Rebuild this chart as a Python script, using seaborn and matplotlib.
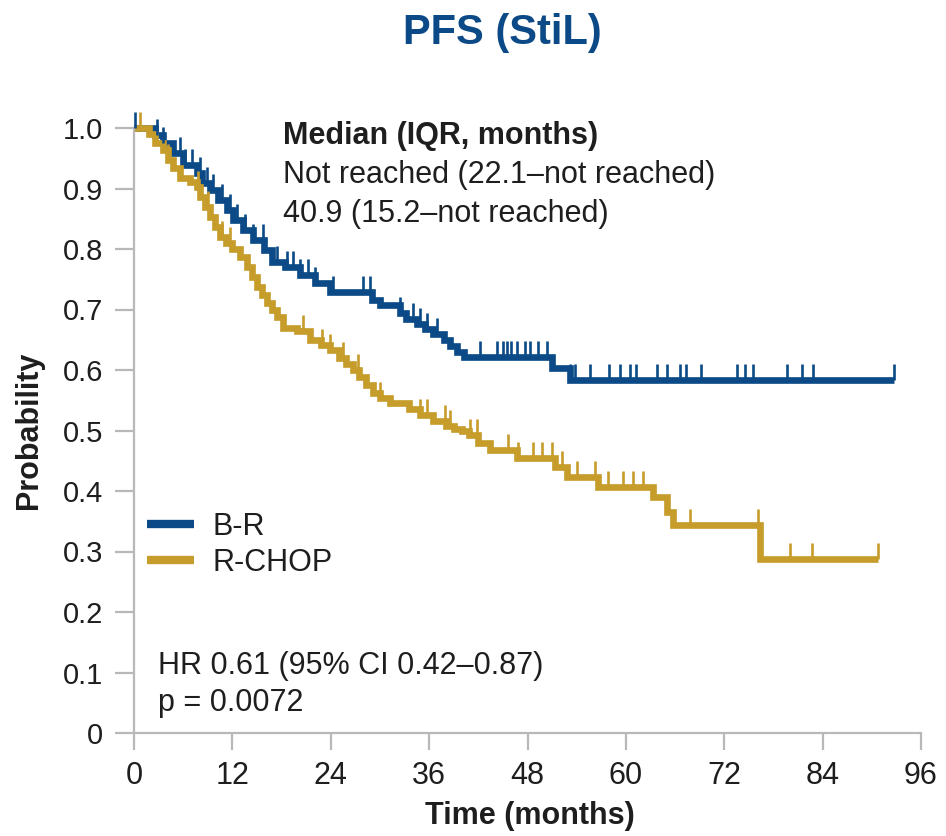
import warnings
warnings.filterwarnings("ignore")
import numpy as np
import pandas as pd
import matplotlib
matplotlib.use("Agg")
import matplotlib.pyplot as plt
import seaborn as sns

# ---------------- data ----------------
arms = ["B-R", "R-CHOP"]

br_time = [0, 2.6, 3.5, 4.8, 6.0, 7.7, 8.3, 9.3, 10.3, 11.3, 12.1, 13.3, 14.5, 15.8,
           16.8, 18.4, 20.2, 22.1, 23.9, 29.0, 30.0, 32.4, 33.2, 34.5, 35.5, 36.5,
           37.8, 38.6, 39.4, 40.3, 51.0, 53.2, 92.7]
br_surv = [1.0, 0.988, 0.975, 0.959, 0.939, 0.926, 0.909, 0.897, 0.881, 0.864, 0.848,
           0.831, 0.815, 0.798, 0.779, 0.770, 0.757, 0.744, 0.729, 0.716, 0.707, 0.694,
           0.684, 0.676, 0.668, 0.660, 0.650, 0.640, 0.630, 0.622, 0.603, 0.583, 0.583]
br_censor = [0.1, 2.8, 3.5, 5.6, 6.2, 7.1, 8.0, 8.9, 9.6, 10.7, 11.7, 12.6, 13.5, 14.5,
             15.7, 17.4, 18.7, 19.4, 20.2, 21.2, 22.1, 24.3, 27.9, 28.8, 32.4, 34.0,
             34.9, 35.7, 37.0, 42.2, 44.3, 45.0, 45.5, 46.0, 46.7, 47.7, 48.3, 49.3,
             50.4, 53.2, 53.8, 55.6, 58.0, 59.3, 60.5, 61.2, 63.8, 65.0, 66.6, 67.3,
             69.2, 73.5, 74.5, 75.5, 79.6, 81.5, 82.8, 92.7]

rc_time = [0, 1.8, 2.6, 3.5, 4.1, 4.8, 5.6, 6.8, 7.7, 8.0, 8.7, 9.3, 9.9, 10.5, 11.2,
           12.0, 12.9, 13.8, 14.4, 15.0, 15.6, 16.2, 16.8, 17.4, 18.2, 19.9, 21.5,
           22.8, 23.9, 25.0, 25.8, 26.7, 27.5, 28.3, 29.2, 30.0, 31.2, 33.5, 34.9,
           36.5, 38.0, 39.0, 40.0, 40.9, 42.0, 43.4, 46.7, 51.3, 52.8, 56.6, 63.3,
           65.0, 65.8, 76.3, 90.7]
rc_surv = [1.0, 0.99, 0.975, 0.964, 0.947, 0.934, 0.917, 0.911, 0.902, 0.886, 0.869,
           0.853, 0.836, 0.820, 0.810, 0.800, 0.787, 0.770, 0.754, 0.737, 0.724, 0.711,
           0.700, 0.688, 0.669, 0.665, 0.650, 0.642, 0.633, 0.620, 0.610, 0.600, 0.588,
           0.575, 0.562, 0.553, 0.545, 0.535, 0.525, 0.515, 0.508, 0.503, 0.500, 0.492,
           0.480, 0.468, 0.455, 0.440, 0.423, 0.407, 0.390, 0.366, 0.343, 0.287, 0.287]
rc_censor = [0.7, 4.1, 7.8, 9.0, 10.7, 11.7, 20.6, 22.9, 23.9, 25.5, 27.3, 30.0, 34.9,
             35.7, 37.9, 38.5, 41.0, 41.8, 45.6, 46.8, 48.7, 49.8, 51.0, 52.2, 54.0,
             56.2, 57.8, 59.6, 60.9, 62.1, 67.8, 76.1, 80.0, 82.7, 90.7]

x_ticks = [0, 12, 24, 36, 48, 60, 72, 84, 96]
y_ticks = [0, 0.1, 0.2, 0.3, 0.4, 0.5, 0.6, 0.7, 0.8, 0.9, 1.0]
y_ticklabels = ["0", "0.1", "0.2", "0.3", "0.4", "0.5", "0.6", "0.7", "0.8", "0.9", "1.0"]

title = "PFS (StiL)"
median_lines = ["Median (IQR, months)", "Not reached (22.1\u2013not reached)",
                "40.9 (15.2\u2013not reached)"]
stat_lines = ["HR 0.61 (95% CI 0.42\u20130.87)", "p = 0.0072"]

# ---------------- style ----------------
BLUE = "#0B4A86"
GOLD = "#C69C2B"
AXCOL = "#b8b8b8"
TXT = "#1e1e1e"

sns.set_style("white")
plt.rcParams["font.family"] = ["Liberation Sans", "DejaVu Sans"]

fig = plt.figure(figsize=(9.46, 8.36), dpi=100)
ax = fig.add_axes([134 / 946, 1 - 733 / 836, 787 / 946, 605 / 836])

curves = pd.concat([
    pd.DataFrame({"time": br_time, "surv": br_surv, "arm": arms[0]}),
    pd.DataFrame({"time": rc_time, "surv": rc_surv, "arm": arms[1]}),
], ignore_index=True)

sns.lineplot(data=curves, x="time", y="surv", hue="arm", hue_order=arms,
             palette=[BLUE, GOLD], drawstyle="steps-post", estimator=None,
             errorbar=None, linewidth=4.8, ax=ax, legend=True,
             solid_joinstyle="miter", solid_capstyle="butt", clip_on=False)


def step_lookup(t_arr, s_arr, q):
    t_arr = np.asarray(t_arr)
    s_arr = np.asarray(s_arr)
    idx = np.searchsorted(t_arr, np.asarray(q), side="right") - 1
    return s_arr[np.clip(idx, 0, len(s_arr) - 1)]


for tt, ss, cens, col in [(br_time, br_surv, br_censor, BLUE),
                          (rc_time, rc_surv, rc_censor, GOLD)]:
    cdf = pd.DataFrame({"time": cens, "surv": step_lookup(tt, ss, cens)})
    sns.scatterplot(data=cdf, x="time", y="surv", marker=2, s=125, color=col,
                    linewidth=1.9, ax=ax, clip_on=False, legend=False, zorder=3)

ax.set_xlim(0, 96)
ax.set_ylim(0, 1.0)
ax.set_xticks(x_ticks)
ax.set_xticklabels([str(v) for v in x_ticks])
ax.set_yticks(y_ticks)
ax.set_yticklabels(y_ticklabels)

for side in ["top", "right"]:
    ax.spines[side].set_visible(False)
for side in ["left", "bottom"]:
    ax.spines[side].set_color(AXCOL)
    ax.spines[side].set_linewidth(1.6)

ax.tick_params(axis="y", direction="out", length=14, width=1.6, color=AXCOL,
               labelsize=21, labelcolor=TXT, pad=8, left=True)
ax.tick_params(axis="x", direction="out", length=12, width=1.6, color=AXCOL,
               labelsize=22, labelcolor=TXT, pad=8, bottom=True)

ax.set_xlabel("Time (months)", fontsize=22, fontweight="bold", color=TXT)
ax.set_ylabel("Probability", fontsize=22, fontweight="bold", color=TXT)
ax.xaxis.set_label_coords(0.503, -0.113)
ax.yaxis.set_label_coords(-0.114, 0.5)

# legend
old = ax.get_legend()
handles = old.legend_handles
labels = [t.get_text() for t in old.get_texts()]
old.remove()
leg = ax.legend(handles, labels, loc="center left", bbox_to_anchor=(0.0165, 0.311),
                frameon=False, fontsize=22, handlelength=1.55, handletextpad=0.6,
                labelspacing=0.2, borderpad=0, borderaxespad=0)
for h in leg.legend_handles:
    h.set_linewidth(6)
for t in leg.get_texts():
    t.set_color(TXT)

# annotations
ax.text(18.2, 0.987, median_lines[0], fontsize=22, fontweight="bold", color=TXT,
        ha="left", va="center")
ax.text(18.2, 0.922, median_lines[1], fontsize=22, color=TXT, ha="left", va="center")
ax.text(18.2, 0.858, median_lines[2], fontsize=22, color=TXT, ha="left", va="center")
ax.text(2.9, 0.110, stat_lines[0], fontsize=22, color=TXT, ha="left", va="center")
ax.text(2.9, 0.049, stat_lines[1], fontsize=22, color=TXT, ha="left", va="center")

fig.text(0.531, 1 - 33 / 836, title, fontsize=30, fontweight="bold", color=BLUE,
         ha="center", va="center")

fig.savefig("out.png", dpi=100)
